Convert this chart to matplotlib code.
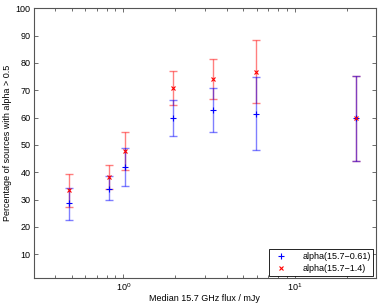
import matplotlib
matplotlib.use("Agg")
import matplotlib.pyplot as plt

flux = [0.48, 0.82, 1.02, 1.94, 3.33, 5.95, 22.6]
blue_val = [28.6, 33.9, 42.0, 59.9, 62.7, 61.4, 59.9]
blue_lo = [22.7, 29.7, 34.9, 53.3, 54.6, 48.0, 44.3]
blue_hi = [34.2, 38.6, 48.9, 66.4, 70.8, 74.8, 75.3]
red_val = [33.4, 38.2, 47.8, 70.7, 74.1, 76.8, 59.9]
red_lo = [27.3, 33.9, 40.8, 64.6, 66.8, 65.2, 44.3]
red_hi = [39.2, 42.6, 54.8, 76.9, 81.5, 88.5, 75.3]

plt.rcParams['font.family'] = ['Liberation Sans', 'DejaVu Sans']
plt.rcParams['font.size'] = 6.5

fig = plt.figure(figsize=(3.82, 3.07), dpi=100)
ax = fig.add_axes([33.5/382, 1 - 278.3/307, (376-33.5)/382, (278.3-8.3)/307])

def yerr(v, lo, hi):
    return [[a - b for a, b in zip(v, lo)], [b - a for a, b in zip(v, hi)]]

ax.errorbar(flux, red_val, yerr=yerr(red_val, red_lo, red_hi), fmt='none',
            ecolor=(1, 0, 0, 0.5), elinewidth=1.0, capsize=3, capthick=1.0)
ax.errorbar(flux, blue_val, yerr=yerr(blue_val, blue_lo, blue_hi), fmt='none',
            ecolor=(0, 0, 1, 0.5), elinewidth=1.0, capsize=3, capthick=1.0)
ax.plot(flux, blue_val, linestyle='none', marker='+', color='blue', markersize=5,
        markeredgewidth=0.8, label='alpha(15.7\u22120.61)')
ax.plot(flux, red_val, linestyle='none', marker='x', color='red', markersize=3.5,
        markeredgewidth=0.8, label='alpha(15.7\u22121.4)')

ax.set_xscale('log')
ax.set_xlim(0.3, 29.6)
ax.set_ylim(1.2, 100)
ax.set_yticks(range(10, 101, 10))
ax.tick_params(which='both', direction='in', top=True, right=True, length=3, width=0.5,
               colors='#333333', labelcolor='black', pad=2)
ax.tick_params(which='minor', length=2)
for s in ax.spines.values():
    s.set_linewidth(0.8)
    s.set_color('#555555')

ax.set_xlabel('Median 15.7 GHz flux / mJy', labelpad=1)
ax.set_ylabel('Percentage of sources with alpha > 0.5', labelpad=3)

leg = ax.legend(loc='lower right', fancybox=False, edgecolor='black', framealpha=1,
                borderaxespad=0.3, handlelength=2.2, handletextpad=1.2,
                borderpad=0.3, labelspacing=0.3)
leg.get_frame().set_linewidth(0.6)

fig.savefig('out.png', dpi=100)
